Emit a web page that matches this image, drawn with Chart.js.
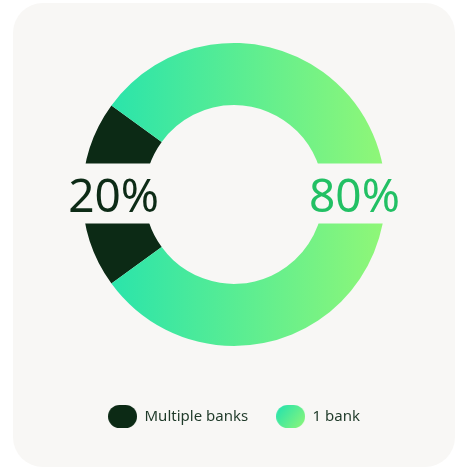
<!DOCTYPE html>
<html>
<head>
<meta charset="utf-8">
<script src="https://cdn.jsdelivr.net/npm/chart.js@4.4.1/dist/chart.umd.min.js"></script>
<style>
  html, body { margin: 0; padding: 0; background: #fff; }
  .card {
    position: absolute; left: 13px; top: 3px;
    width: 442px; height: 464px;
    background: #f8f7f5; border-radius: 30px;
  }
</style>
</head>
<body>
<div class="card"><canvas id="banks"></canvas></div>
<script>
const categories = ['Multiple banks', '1 bank'];
const shares = [20, 80];
const labelColors = ['#0d2b16', '#22c064'];
const darkGreen = '#0c2a15';
const gradStops = ['#20e2b0', '#90f777'];
const cardBg = '#f8f7f5';

// rounded pill used as the legend marker
function pill(w, h, paint) {
  const c = document.createElement('canvas');
  c.width = w; c.height = h;
  const g = c.getContext('2d');
  g.beginPath();
  g.roundRect(0, 0, w, h, h / 2);
  g.fillStyle = paint(g, w, h);
  g.fill();
  return c;
}

const markers = [
  pill(29, 23, () => darkGreen),
  pill(29, 23, (g, w, h) => {
    const lg = g.createLinearGradient(0, 0, w, h);
    lg.addColorStop(0, gradStops[0]);
    lg.addColorStop(1, gradStops[1]);
    return lg;
  })
];

function sliceColor(ctx) {
  if (ctx.dataIndex === 0) return darkGreen;
  const area = ctx.chart.chartArea;
  if (!area) return gradStops[0];
  const cx = (area.left + area.right) / 2;
  const r = 151.5;
  const lg = ctx.chart.ctx.createLinearGradient(cx - r, 0, cx + r, 0);
  lg.addColorStop(0, gradStops[0]);
  lg.addColorStop(1, gradStops[1]);
  return lg;
}

// percentage text sitting on a card-coloured band across each slice
const sliceLabels = {
  id: 'sliceLabels',
  afterDatasetsDraw(chart) {
    const ctx = chart.ctx;
    chart.getDatasetMeta(0).data.forEach((arc, i) => {
      const p = arc.tooltipPosition();
      const text = shares[i] + '%';
      ctx.save();
      ctx.font = '400 46px "Noto Sans"';
      const w = ctx.measureText(text).width;
      ctx.fillStyle = cardBg;
      ctx.fillRect(p.x - w / 2 - 10, p.y - 31, w + 20, 60);
      ctx.fillStyle = labelColors[i];
      ctx.textAlign = 'center';
      ctx.textBaseline = 'alphabetic';
      ctx.fillText(text, p.x, p.y + 17);
      ctx.restore();
    });
  }
};

new Chart(document.getElementById('banks'), {
  type: 'doughnut',
  data: {
    labels: categories,
    datasets: [{
      data: shares,
      backgroundColor: sliceColor,
      borderWidth: 0,
      hoverOffset: 0
    }]
  },
  options: {
    responsive: true,
    maintainAspectRatio: false,
    animation: false,
    rotation: 234,
    radius: 151.5,
    cutout: '59%',
    layout: { padding: { top: 5, bottom: 33 } },
    plugins: {
      tooltip: { enabled: false },
      legend: {
        position: 'bottom',
        labels: {
          usePointStyle: true,
          pointStyleWidth: 29,
          padding: 28,
          color: '#1f3a29',
          font: { family: '"Noto Sans"', size: 15 },
          generateLabels: () => categories.map((t, i) => ({
            text: t,
            pointStyle: markers[i],
            fontColor: '#1f3a29',
            hidden: false,
            index: i
          }))
        }
      }
    }
  },
  plugins: [sliceLabels]
});
</script>
</body>
</html>
